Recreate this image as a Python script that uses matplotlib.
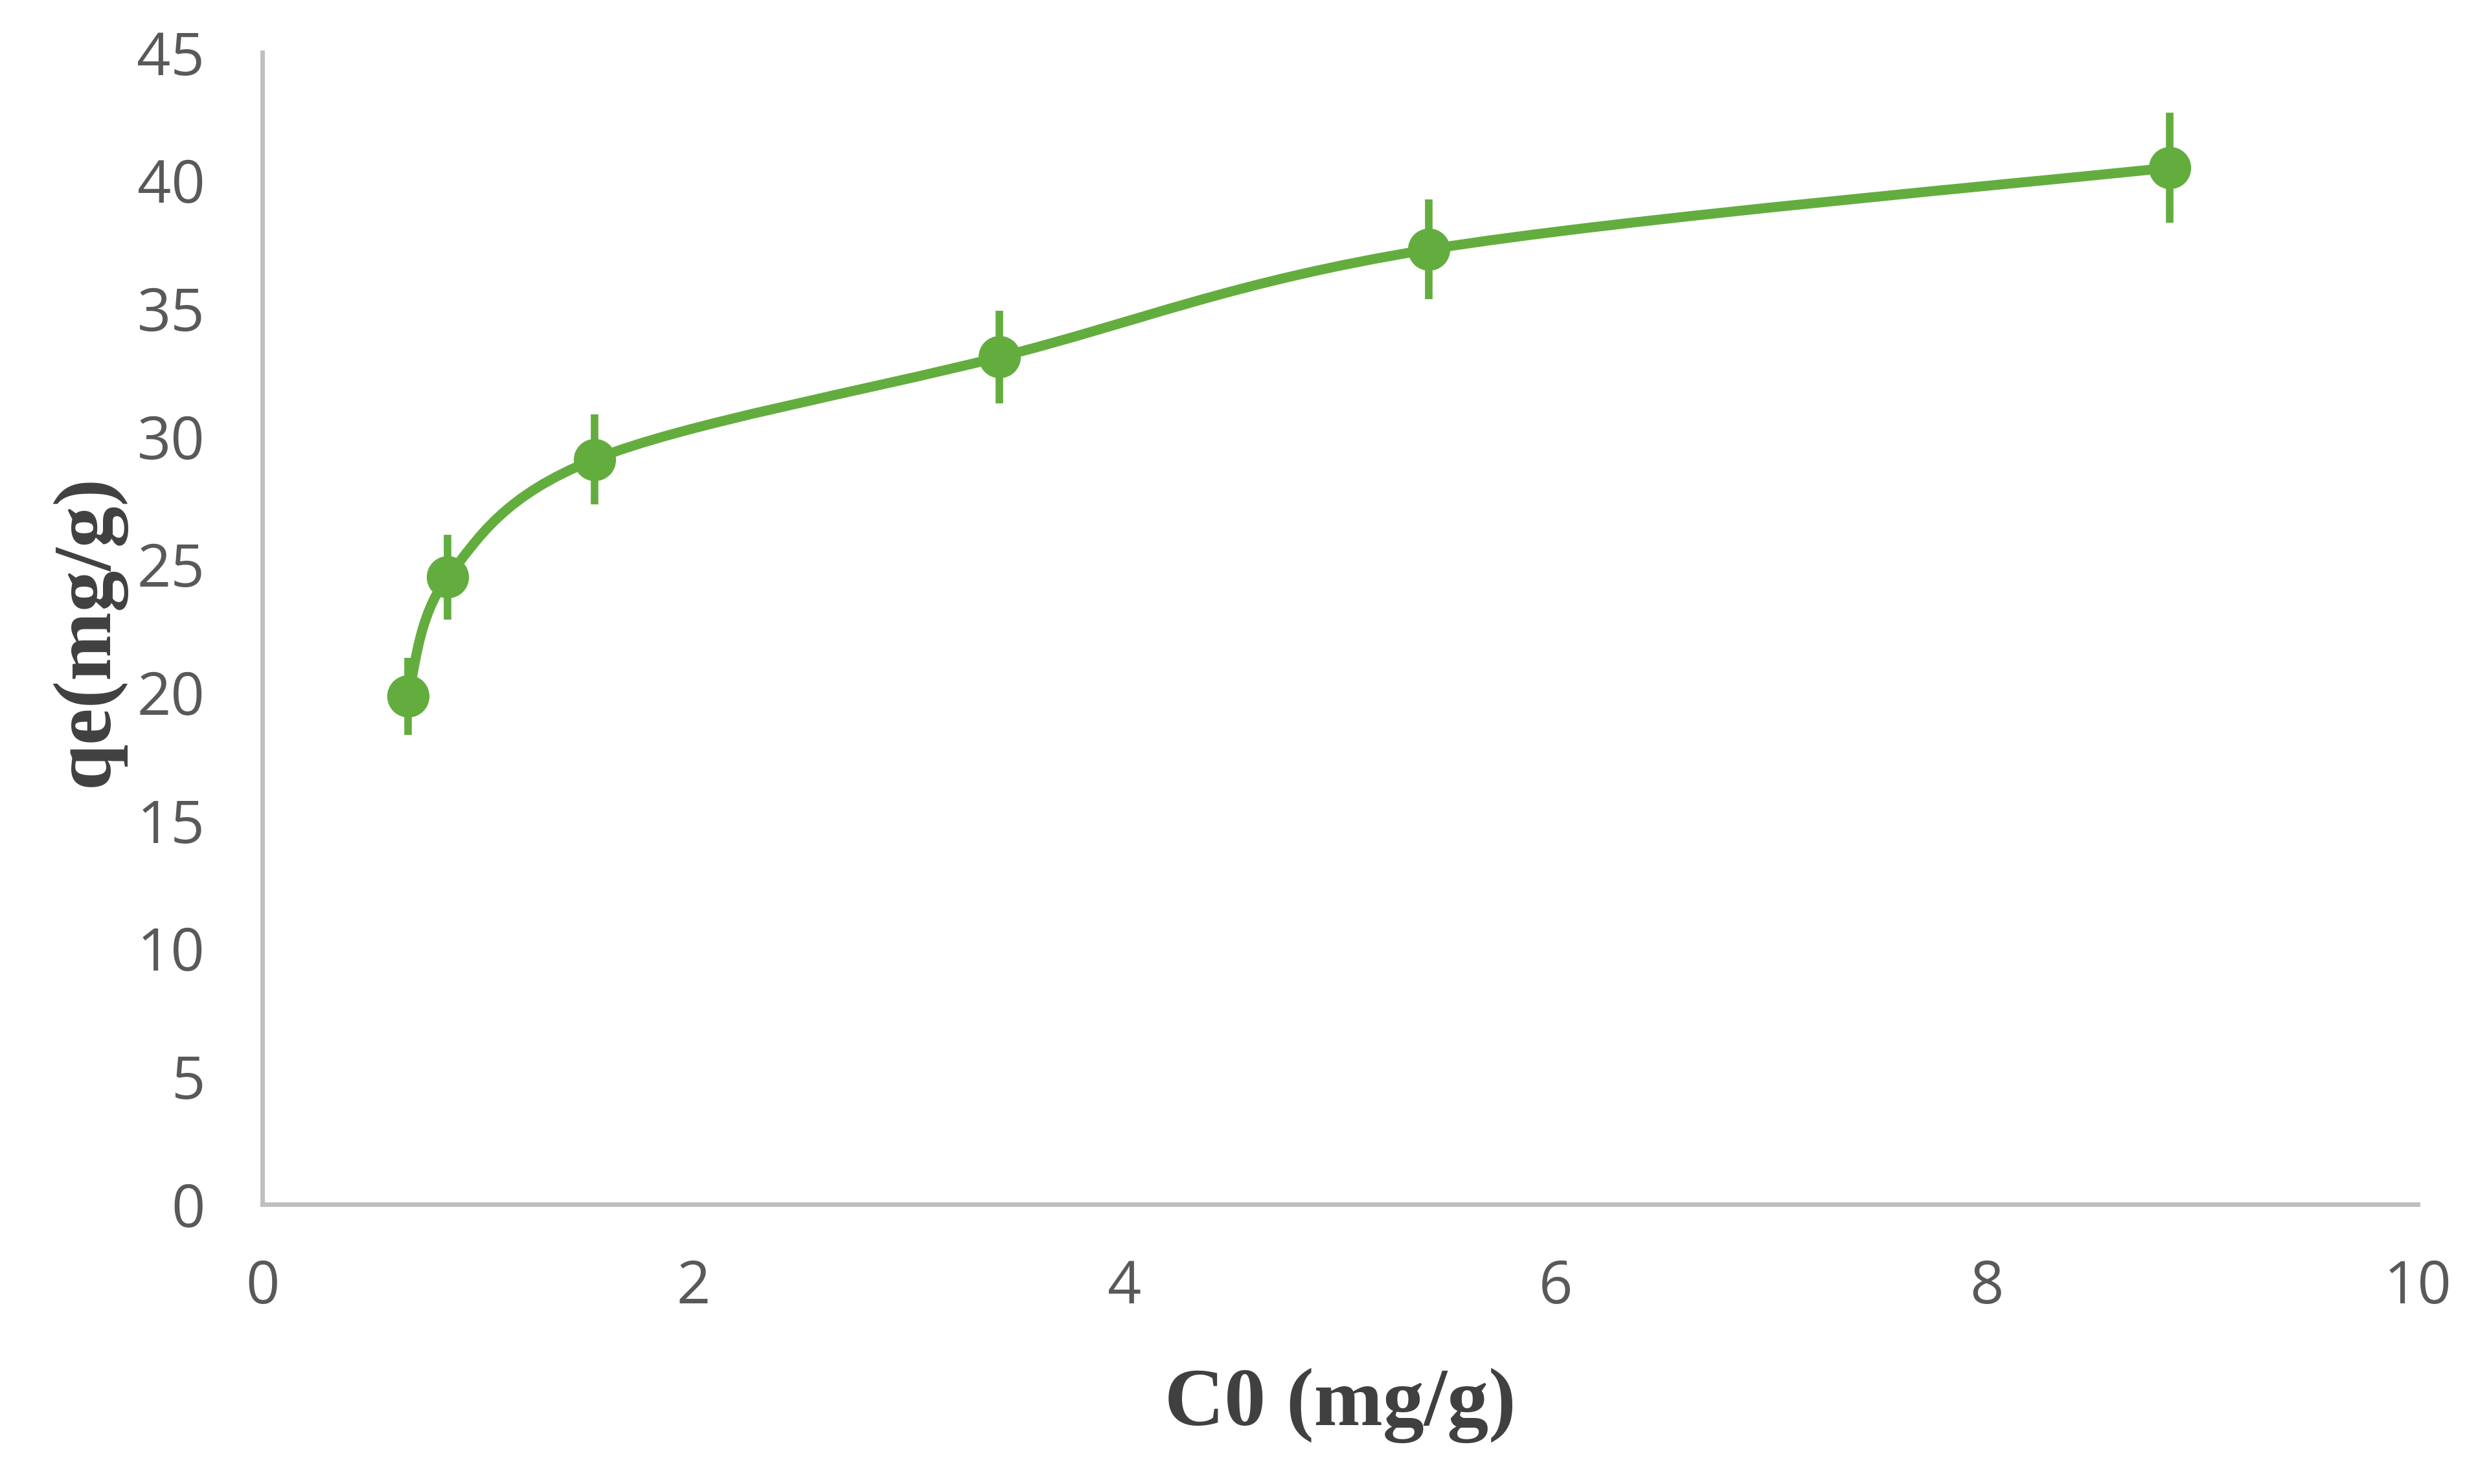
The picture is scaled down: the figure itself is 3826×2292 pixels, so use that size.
import matplotlib
matplotlib.use("Agg")
import matplotlib.pyplot as plt
import numpy as np
from matplotlib.path import Path
from matplotlib.patches import PathPatch

# data
c0 = [0.675, 0.86, 1.54, 3.42, 5.41, 8.85]
qe = [19.85, 24.5, 29.1, 33.1, 37.3, 40.5]
qe_err = [1.5, 1.65, 1.75, 1.8, 1.95, 2.15]

xticks = [0, 2, 4, 6, 8, 10]
yticks = [0, 5, 10, 15, 20, 25, 30, 35, 40, 45]

green = '#63AD3F'
grey_txt = '#595959'


def smooth_path(xs, ys):
    # Excel-like smoothed line: Catmull-Rom as cubic Bezier segments
    pts = np.column_stack([xs, ys])
    ext = np.vstack([pts[0], pts, pts[-1]])
    verts = [tuple(pts[0])]
    codes = [Path.MOVETO]
    for i in range(1, len(ext) - 2):
        p0, p1, p2, p3 = ext[i - 1], ext[i], ext[i + 1], ext[i + 2]
        c1 = p1 + (p2 - p0) / 6.0
        c2 = p2 - (p3 - p1) / 6.0
        verts += [tuple(c1), tuple(c2), tuple(p2)]
        codes += [Path.CURVE4] * 3
    return Path(verts, codes)


fig = plt.figure(figsize=(19.13, 11.46), dpi=200)
ax = fig.add_axes([0.1059, 0.1885, 0.8698, 0.7762])

ax.set_xlim(0, 10)
ax.set_ylim(0, 45)

# curve drawn in display space so the smoothing matches screen proportions
disp = ax.transData.transform(np.column_stack([c0, qe]))
curve = smooth_path(disp[:, 0], disp[:, 1])
ax.add_patch(PathPatch(curve, facecolor='none', edgecolor=green, lw=5.5,
                       transform=None, zorder=2, clip_on=False))

ax.errorbar(c0, qe, yerr=qe_err, fmt='o', color=green, ms=22.5,
            elinewidth=4.2, capsize=0, zorder=3)

ax.set_xticks(xticks)
ax.set_yticks(yticks)
ax.tick_params(length=0, labelsize=33, labelcolor=grey_txt)
ax.tick_params(axis='x', pad=30)
ax.tick_params(axis='y', pad=32)
for lab in ax.get_xticklabels() + ax.get_yticklabels():
    lab.set_family('Open Sans')

for side in ['top', 'right']:
    ax.spines[side].set_visible(False)
for side in ['left', 'bottom']:
    ax.spines[side].set_color('#BFBFBF')
    ax.spines[side].set_linewidth(2.5)

ax.set_xlabel('C0 (mg/g)', family='Liberation Serif', weight='bold',
              fontsize=46, color='#404040')
ax.set_ylabel('qe(mg/g)', family='Liberation Serif', weight='bold',
              fontsize=46, color='#404040')
ax.xaxis.label.set_va('center')
ax.yaxis.label.set_va('center')
ax.xaxis.set_label_coords(0.5, -0.175)
ax.yaxis.set_label_coords(-0.081, 0.498)

fig.savefig('out.png', dpi=200)
